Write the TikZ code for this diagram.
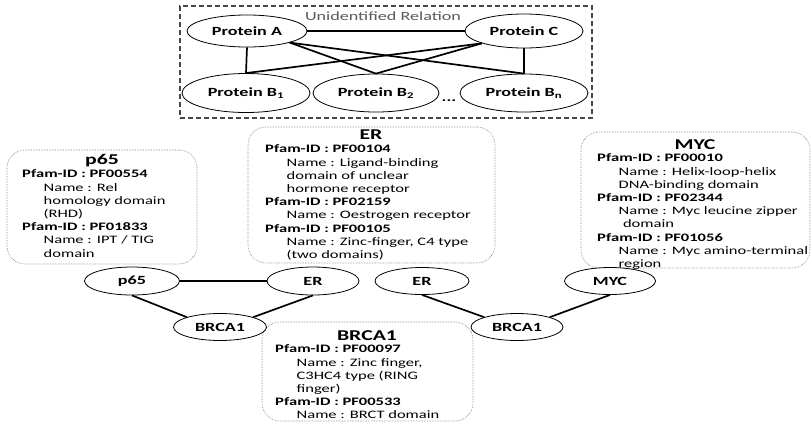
\documentclass[tikz,border=0pt]{standalone}
\usepackage{fontspec}
\setmainfont{Carlito}
\usepackage{graphicx}
\usepackage{tikz}
\usetikzlibrary{shapes.geometric}
\definecolor{boxgray}{HTML}{777777}
\definecolor{dashgray}{HTML}{474747}
\definecolor{labelgray}{HTML}{5A5A5A}

% text is set wide, as in the slide it came from
\newcommand\wide[1]{\scalebox{1.45}[1]{#1}}
\newcommand\pfam[1]{\textbf{Pfam-ID : #1}}
\newcommand\ind{\hspace*{14.8pt}}
\newcommand\lines[1]{\wide{\begin{tabular}{@{}l@{}}#1\end{tabular}}}

\begin{document}
\begin{tikzpicture}[x=1pt,y=-1pt,
  prot/.style={ellipse,draw,line width=0.8pt,fill=white,inner sep=0pt,
    font=\bfseries\fontsize{12.5}{14}\selectfont},
  link/.style={line width=1.7pt},
  infobox/.style={draw=boxgray,densely dotted,line width=0.6pt,rounded corners=18pt},
  boxtitle/.style={inner sep=0pt,font=\bfseries\fontsize{15}{17}\selectfont},
  boxtext/.style={anchor=north west,inner sep=0pt,
    font=\fontsize{11.4}{13.2}\selectfont}]
\useasboundingbox (0,0) rectangle (812,424);

% unknown relations between the proteins
\node[draw=dashgray,line width=1.3pt,dash pattern=on 5pt off 3pt,
  minimum width=412,minimum height=112] (relbox) at (386,62) {};
\node[text=labelgray,font=\fontsize{12.5}{14}\selectfont] (rellabel) at (383,16) {\wide{Unidentified Relation}};
\node[prot,minimum width=120,minimum height=32] (protA) at (247,31) {\wide{Protein A}};
\node[prot,minimum width=118,minimum height=34] (protC) at (524,31) {\wide{Protein C}};
\node[prot,minimum width=128,minimum height=39] (protB1) at (246,93) {\wide{Protein B\textsubscript{1}}};
\node[prot,minimum width=126,minimum height=38] (protB2) at (376,93) {\wide{Protein B\textsubscript{2}}};
\node[prot,minimum width=128,minimum height=38] (protBn) at (524,93) {\wide{Protein B\textsubscript{n}}};
\node[anchor=base,font=\bfseries\fontsize{12.5}{14}\selectfont] (dots) at (449,101) {\wide{...}};
\draw[link] (protA.east) -- (protC.west);
\draw[link] (protA.south) -- (protB1.north);
\draw[link] (protA.south east) -- (protB2.north);
\draw[link] (protA.south east) -- (protBn.north);
\draw[link] (protC.south west) -- (protB1.north);
\draw[link] (protC.south west) -- (protB2.north);
\draw[link] (protC.south) -- (protBn.north);

% domain boxes
\node[infobox,minimum width=190,minimum height=114] (p65box) at (102,207) {};
\node[boxtitle] (p65title) at (102,161) {\wide{p65}};
\node[boxtext] (p65text) at (22,168.5) {\lines{\pfam{PF00554}\\
  \ind Name : Rel\\ \ind homology domain\\ \ind (RHD)\\
  \pfam{PF01833}\\ \ind Name : IPT / TIG\\ \ind domain}};

\node[infobox,minimum width=247,minimum height=136] (erbox) at (371.5,195) {};
\node[boxtitle] (ertitle) at (371,135) {\wide{ER}};
\node[boxtext] (ertext) at (265,143.5) {\lines{\pfam{PF00104}\\
  \ind Name : Ligand-binding\\ \ind domain of unclear\\ \ind hormone receptor\\
  \pfam{PF02159}\\ \ind Name : Oestrogen receptor\\
  \pfam{PF00105}\\ \ind Name : Zinc-finger, C4 type\\ \ind (two domains)}};

\node[infobox,minimum width=229,minimum height=136] (mycbox) at (695.5,200) {};
\node[boxtitle] (myctitle) at (695,145) {\wide{MYC}};
\node[boxtext] (myctext) at (597,152.5) {\lines{\pfam{PF00010}\\
  \ind Name : Helix-loop-helix\\ \ind DNA-binding domain\\
  \pfam{PF02344}\\ \ind Name : Myc leucine zipper\\ \ind\hspace*{3pt}domain\\
  \pfam{PF01056}\\ \ind Name : Myc amino-terminal\\ \ind region}};

\node[infobox,minimum width=211,minimum height=99] (brcabox) at (367.5,371.5) {};
\node[boxtitle] (brcatitle) at (367,336) {\wide{BRCA1}};
\node[boxtext] (brcatext) at (275,343.5) {\lines{\pfam{PF00097}\\
  \ind Name : Zinc finger,\\ \ind C3HC4 type (RING\\ \ind finger)\\
  \pfam{PF00533}\\ \ind Name : BRCT domain}};

% interaction pairs
\node[prot,minimum width=95,minimum height=28] (p65) at (132,281) {\wide{p65}};
\node[prot,minimum width=92,minimum height=28] (erL) at (313,281) {\wide{ER}};
\node[prot,minimum width=93,minimum height=27] (brcaL) at (220,327) {\wide{BRCA1}};
\node[prot,minimum width=94,minimum height=27] (erR) at (422,281) {\wide{ER}};
\node[prot,minimum width=91,minimum height=27] (myc) at (610,281) {\wide{MYC}};
\node[prot,minimum width=92,minimum height=27] (brcaR) at (517,327) {\wide{BRCA1}};
\draw[link] (p65.east) -- (erL.west);
\draw[link] (p65.south) -- (brcaL.north west);
\draw[link] (erL.south) -- (brcaL.north east);
\draw[link] (erR.south) -- (brcaR.north west);
\draw[link] (myc.south) -- (brcaR.north east);
\end{tikzpicture}
\end{document}
